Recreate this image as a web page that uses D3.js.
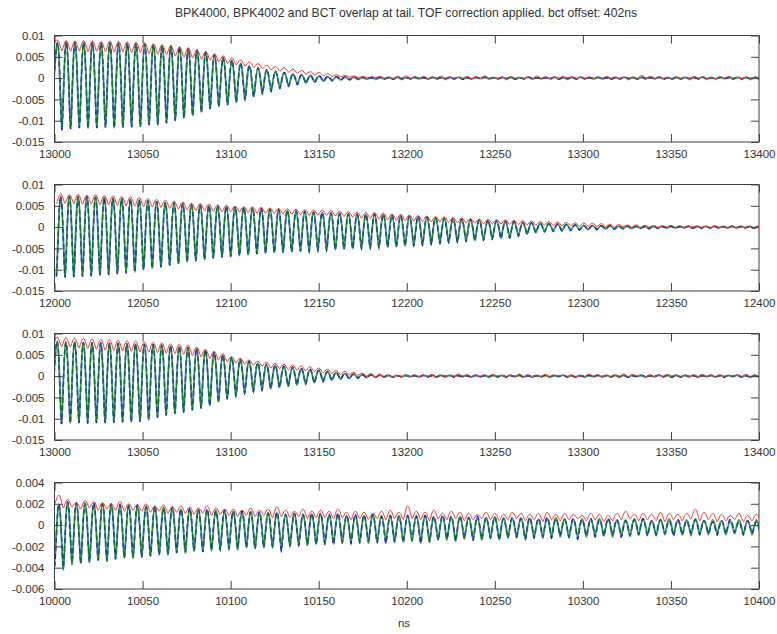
<!DOCTYPE html>
<html>
<head>
<meta charset="utf-8">
<script src="https://cdn.jsdelivr.net/npm/d3@7"></script>
<style>
  body { margin: 0; background: #fff; }
  svg { display: block; }
  text { font-family: "Liberation Sans", Arial, sans-serif; fill: #333; }
</style>
</head>
<body>
<svg id="chart" width="777" height="634"></svg>
<script>
// Signal values are stored per oscillation cycle (one peak and one trough each),
// in units of 1e-4. Samples sit half a bunch period apart.
const UNIT = 1e-4;
const PERIOD = 4.95; // ns

const titleText = "BPK4000, BPK4002 and BCT overlap at tail. TOF correction applied. bct offset: 402ns";
const xLabelText = "ns";

const yTicksWide = [-0.015, -0.01, -0.005, 0, 0.005, 0.01];
const yTicksNarrow = [-0.006, -0.004, -0.002, 0, 0.002, 0.004];
const xStarts = [13000, 12000, 13000, 10000];
const phases = [4.2, 6.0, 4.0, 5.0];

// ---- panel 1 : 13000 - 13400 ns ----
const p1BlueLo = [-20,
  -122,-119,-117,-118,-117,-116,-117,-116,-115,-114,
  -110,-110,-106,-100,-94,-88,-80,-72,-67,-63,
  -57,-50,-44,-36,-31,-24,-19,-15,-12,-10,
  -8,-6,-5,-4,-3,-3,-2,-2,-3,-2,
  -2,-1,-3,-2,-1,-2,-3,-2,-1,-2, -2,-1,-3,-2,-2,-1,-2,-3,-1,-2,
  -2,-1,-2,-3,-2,-1,-2,-2,-1,-3, -2,-2,-1,-2,-3,-2,-1,-2,-2,-1,-2];
const p1BlueHi = [84,
  86,85,84,84,83,83,82,82,81,80,
  79,77,76,73,70,66,61,55,48,42,
  35,29,24,20,16,13,10,8,6,5,
  4,3,3,2,2,1,2,1,2,1,
  2,1,2,1,1,2,1,2,2,1, 1,2,1,2,1,1,2,1,2,2,
  1,2,1,1,2,1,2,1,2,1, 2,1,1,2,1,2,1,2,1,2];
const p1GreenLo = [-18,
  -117,-114,-113,-115,-112,-113,-114,-112,-111,-111,
  -106,-107,-103,-97,-91,-85,-78,-70,-65,-61,
  -55,-49,-42,-35,-29,-23,-18,-14,-11,-9,
  -7,-6,-4,-4,-3,-2,-3,-2,-2,-3,
  -1,-2,-2,-1,-3,-1,-2,-2,-1,-2, -1,-3,-2,-1,-2,-2,-1,-1,-3,-2,
  -1,-2,-2,-1,-1,-3,-2,-1,-2,-1, -2,-1,-3,-1,-2,-2,-1,-2,-1,-3,-1];
const p1GreenHi = [82,
  85,84,83,83,82,82,82,81,80,79,
  78,76,75,72,69,65,60,54,47,41,
  34,28,23,19,15,12,9,7,6,4,
  3,3,2,2,1,2,1,1,2,1,
  1,2,1,1,2,2,1,1,2,1, 2,1,1,2,1,2,2,1,1,2,
  1,1,2,1,2,1,1,2,2,1, 1,2,1,2,1,1,2,1,1,2];
const p1RedLo = [84,
  64,63,64,62,63,62,61,62,60,60,
  58,56,55,52,49,47,44,42,38,34,
  31,28,25,22,19,16,14,11,9,7,
  5,4,3,2,1,0,1,0,-1,0,
  -1,0,-2,0,-1,-1,0,-2,-1,0, -1,-2,0,-1,0,-1,-2,-1,0,-1,
  -2,-1,0,-1,-3,-2,-1,0,-1,-2, -3,-2,-1,0,-1,-2,-1,0,-2,-1,-2];
const p1RedHi = [89,
  88,87,88,87,86,87,86,85,84,83,
  80,78,76,73,70,66,62,57,52,47,
  42,38,34,30,27,24,21,18,15,13,
  10,8,6,5,4,3,4,3,4,5,
  3,4,2,5,3,2,4,3,5,2, 3,4,2,3,5,3,2,4,3,2,
  3,2,4,3,2,3,6,4,3,2, 3,2,4,3,2,3,4,2,3,2];

// ---- panel 2 : 12000 - 12400 ns ----
const p2BlueLo = [-116,
  -118,-117,-116,-115,-113,-112,-110,-108,-106,-100,
  -97,-94,-90,-86,-82,-79,-76,-73,-71,-69,
  -67,-65,-63,-61,-60,-59,-58,-57,-56,-55,
  -54,-53,-52,-51,-50,-49,-48,-47,-46,-44,
  -43,-42,-40,-38,-36,-35,-33,-32,-30,-28,
  -27,-25,-21,-17,-13,-11,-10,-9,-8,-7,
  -6,-6,-5,-5,-4,-4,-3,-4,-3,-2,
  -3,-2,-3,-2,-2,-3,-2,-1,-2,-3,-2];
const p2BlueHi = [72,
  72,71,72,70,69,68,67,66,64,62,
  60,58,57,55,53,52,51,50,49,48,
  46,45,44,42,41,39,38,37,35,34,
  33,32,31,30,30,31,30,28,27,26,
  25,24,22,21,20,19,18,17,16,15,
  14,13,11,10,9,8,7,6,5,4,
  4,3,3,2,2,2,1,2,1,2,
  1,2,1,1,2,1,2,1,1,2];
const p2GreenLo = [-110,
  -113,-112,-112,-110,-109,-108,-106,-104,-102,-97,
  -94,-91,-87,-84,-80,-77,-74,-71,-69,-67,
  -65,-63,-61,-60,-58,-57,-56,-55,-54,-53,
  -52,-51,-50,-49,-48,-47,-46,-45,-44,-43,
  -41,-40,-38,-36,-35,-33,-32,-30,-29,-27,
  -25,-23,-20,-16,-13,-11,-9,-8,-7,-6,
  -6,-5,-4,-4,-3,-3,-2,-3,-2,-2,
  -2,-1,-2,-3,-2,-1,-2,-2,-1,-2,-2];
const p2GreenHi = [70,
  73,72,71,71,70,68,67,65,64,61,
  59,58,56,55,53,52,50,49,48,47,
  46,44,43,42,40,39,37,36,35,34,
  33,32,31,30,29,30,29,28,27,25,
  24,23,22,21,20,19,18,17,15,14,
  13,12,11,10,8,8,7,6,5,4,
  3,3,2,2,2,1,2,1,2,1,
  2,1,1,2,1,2,1,1,2,1];
const p2RedLo = [55,
  56,55,54,54,53,52,51,50,49,48,
  47,46,44,42,40,39,38,37,36,36,
  35,34,33,32,32,31,30,29,28,28,
  27,26,25,23,21,20,19,17,16,15,
  14,13,12,12,11,10,10,9,8,8,
  7,6,6,5,5,4,4,3,3,2,
  2,1,1,0,1,0,-1,0,-1,0,
  -1,-2,0,-1,-2,-1,-3,-2,-1,-2,-3];
const p2RedHi = [78,
  76,77,75,76,74,73,72,71,69,67,
  65,63,61,59,56,55,54,52,51,49,
  48,47,46,45,44,43,42,41,40,40,
  39,37,36,35,34,34,33,31,30,28,
  27,26,25,24,22,21,20,19,18,17,
  17,16,15,14,13,13,12,11,10,10,
  9,8,7,6,5,5,4,4,3,4,
  3,2,3,2,3,1,2,3,1,2];

// ---- panel 3 : 13000 - 13400 ns ----
const p3BlueLo = [-30,
  -112,-111,-110,-111,-110,-110,-109,-108,-108,-107,
  -103,-97,-92,-88,-85,-80,-76,-70,-61,-54,
  -46,-40,-36,-33,-30,-27,-24,-21,-19,-16,
  -13,-10,-8,-6,-5,-4,-3,-2,-3,-2,
  -1,-3,-2,-2,-1,-2,-1,-3,-2,-1, -2,-2,-1,-3,-1,-2,-2,-1,-2,-3,
  -1,-2,-1,-2,-2,-3,-1,-2,-1,-2, -3,-2,-1,-2,-1,-2,-3,-1,-2,-2,-1];
const p3BlueHi = [82,
  80,80,79,78,78,77,77,76,76,75,
  74,73,71,70,68,65,61,56,50,44,
  39,35,31,28,26,23,21,18,16,14,
  11,8,6,5,4,3,2,2,1,2,
  1,2,1,2,2,1,1,2,1,2, 2,1,2,1,1,2,1,2,1,1,
  2,2,1,2,1,1,2,1,2,2, 1,2,1,1,2,1,2,2,1,1];
const p3GreenLo = [-28,
  -107,-106,-106,-107,-105,-106,-105,-104,-103,-103,
  -99,-94,-89,-85,-82,-77,-73,-67,-59,-52,
  -44,-38,-34,-31,-28,-25,-22,-20,-17,-15,
  -12,-9,-7,-6,-4,-3,-3,-2,-2,-1,
  -2,-1,-1,-3,-2,-1,-2,-2,-1,-3, -1,-2,-1,-2,-3,-1,-2,-1,-2,-2,
  -3,-1,-2,-2,-1,-2,-1,-3,-2,-1, -1,-2,-2,-3,-1,-2,-1,-1,-2,-3,-2];
const p3GreenHi = [80,
  79,79,78,78,77,76,76,75,75,74,
  73,72,70,69,67,64,60,55,49,43,
  38,34,30,27,25,22,20,17,15,13,
  10,8,6,4,3,3,2,1,2,1,
  2,1,2,1,1,2,2,1,2,1, 1,2,1,2,2,1,1,2,1,2,
  1,1,2,1,2,2,1,1,2,1, 2,1,2,1,1,2,1,2,1,2];
const p3RedLo = [80,
  69,68,66,65,63,61,60,59,58,57,
  56,55,54,53,51,48,45,41,38,34,
  31,28,26,24,19,17,15,14,12,10,
  8,6,4,3,2,0,-3,-4,-3,-2,
  -1,-2,0,-1,-2,-1,0,-1,-2,-1, 0,-1,-2,-1,-3,-2,-1,0,-1,-2,
  -1,0,-2,-1,-1,-2,0,-1,-2,-1, 0,-2,-1,-1,-2,-3,-1,0,-1,-2,-1];
const p3RedHi = [91,
  90,89,88,87,86,85,84,83,82,80,
  79,78,76,75,73,68,63,58,53,46,
  42,38,35,33,30,28,26,24,22,19,
  16,13,11,9,7,6,5,3,1,2,
  3,2,4,3,2,5,3,2,3,4, 2,3,5,3,2,4,3,2,3,2,
  4,3,2,3,5,4,2,3,2,4, 3,2,3,4,2,3,2,3,4,3];

// ---- panel 4 : 10000 - 10400 ns ----
const p4BlueLo = [-39,
  -40,-35,-36,-34,-33,-33,-32,-31,-30,-30,
  -29,-28,-27,-26,-25,-24,-25,-23,-23,-22,
  -22,-21,-22,-21,-20,-24,-19,-19,-18,-18,
  -17,-18,-16,-17,-16,-15,-16,-17,-15,-16,
  -14,-17,-15,-14,-13,-15,-12,-14,-13,-12,
  -14,-12,-11,-13,-12,-11,-12,-10,-11,-13,
  -10,-11,-10,-9,-11,-10,-9,-10,-9,-8,
  -10,-9,-8,-9,-8,-9,-8,-7,-9,-8,-9];
const p4BlueHi = [20,
  22,21,20,21,20,20,19,18,19,17,
  18,16,17,15,16,14,15,13,14,13,
  13,12,12,11,12,10,11,10,11,11,
  10,11,9,10,9,10,8,9,8,9,
  8,9,8,9,8,8,7,8,7,7,
  6,7,6,7,6,7,6,5,6,5,
  6,5,6,5,4,5,6,4,5,4,
  5,4,5,4,3,4,5,3,4,3];
const p4GreenLo = [-30,
  -42,-37,-34,-35,-32,-34,-31,-30,-31,-29,
  -28,-27,-28,-25,-26,-24,-23,-24,-22,-21,
  -23,-20,-21,-20,-21,-19,-20,-18,-19,-17,
  -18,-16,-17,-15,-16,-17,-15,-14,-16,-15,
  -15,-14,-16,-13,-14,-15,-13,-12,-14,-12,
  -13,-11,-12,-13,-11,-12,-10,-11,-12,-10,
  -11,-9,-10,-11,-9,-10,-9,-8,-10,-9,
  -8,-9,-10,-8,-9,-7,-9,-8,-8,-9,-7];
const p4GreenHi = [18,
  21,20,21,19,20,19,18,19,17,18,
  16,17,16,15,14,15,13,14,12,13,
  12,13,11,12,11,10,11,10,9,10,
  9,10,9,8,9,10,9,8,9,8,
  9,8,7,8,7,8,7,6,7,8,
  7,6,7,6,5,6,7,6,5,6,
  5,6,5,4,5,6,5,4,5,6,
  4,5,6,4,5,4,3,5,4,5];
const p4RedLo = [20,
  16,17,15,16,14,15,14,13,14,13,
  12,13,11,12,11,10,11,9,10,9,
  8,9,8,9,7,8,7,8,6,7,
  7,6,7,5,6,5,6,5,6,5,
  6,5,4,6,5,6,4,5,6,5,
  4,5,6,4,5,3,5,4,5,6,
  4,5,3,4,5,6,4,5,4,3,
  5,4,6,4,5,3,4,5,3,4,5];
const p4RedHi = [28,
  24,21,23,22,21,20,22,20,19,20,
  18,19,17,18,17,16,18,16,15,15,
  14,16,14,15,17,14,13,15,13,14,
  13,15,12,13,12,11,13,14,12,18,
  13,12,14,11,13,12,11,10,12,11,
  10,12,11,10,11,12,10,11,10,9,
  11,10,9,11,13,10,11,10,12,11,
  10,11,15,12,11,10,9,11,9,10];

const panelData = [
  { blueLo: p1BlueLo, blueHi: p1BlueHi, greenLo: p1GreenLo, greenHi: p1GreenHi, redLo: p1RedLo, redHi: p1RedHi, yTicks: yTicksWide },
  { blueLo: p2BlueLo, blueHi: p2BlueHi, greenLo: p2GreenLo, greenHi: p2GreenHi, redLo: p2RedLo, redHi: p2RedHi, yTicks: yTicksWide },
  { blueLo: p3BlueLo, blueHi: p3BlueHi, greenLo: p3GreenLo, greenHi: p3GreenHi, redLo: p3RedLo, redHi: p3RedHi, yTicks: yTicksWide },
  { blueLo: p4BlueLo, blueHi: p4BlueHi, greenLo: p4GreenLo, greenHi: p4GreenHi, redLo: p4RedLo, redHi: p4RedHi, yTicks: yTicksNarrow }
];

// ---- layout ----
const plotLeft = 54.5, plotRight = 759;
const panelTops = [35.5, 184.5, 333.5, 482.5];
const panelHeight = 106.5;
const tickLen = 8;
const titleWidth = 462;

const svg = d3.select("#chart");

// title, sized so that it spans its intended width
const title = svg.append("text")
  .attr("x", 406).attr("y", 17)
  .attr("text-anchor", "middle")
  .style("font-size", "12px")
  .text(titleText);
const measured = title.node().getComputedTextLength();
if (measured > 0) title.style("font-size", (12 * titleWidth / measured).toFixed(2) + "px");

// Interleave trough / peak readings into a time-ordered series.
function buildSeries(x0, phase, lo, hi) {
  const pts = [];
  const n = Math.max(lo.length, hi.length);
  for (let k = 0; k < n; k++) {
    if (k < lo.length) pts.push([x0 + phase + (k - 1) * PERIOD, lo[k] * UNIT]);
    if (k < hi.length) pts.push([x0 + phase + (k - 0.5) * PERIOD, hi[k] * UNIT]);
  }
  return pts;
}

// Curve with rounded crests and slightly pointed troughs (bunch-shaped pulses).
function cuspCurve(context) {
  let px, py, n = 0;
  return {
    areaStart() {}, areaEnd() {},
    lineStart() { n = 0; },
    lineEnd() {},
    point(x, y) {
      x = +x; y = +y;
      if (n++ === 0) {
        context.moveTo(x, y);
      } else {
        const dx = x - px, dy = y - py;
        if (y < py) {
          // rising from a trough to a crest
          context.bezierCurveTo(px + dx * 0.28, py + dy * 0.12, x - dx * 0.42, y, x, y);
        } else {
          // falling from a crest into a trough
          context.bezierCurveTo(px + dx * 0.42, py, x - dx * 0.28, y - dy * 0.12, x, y);
        }
      }
      px = x; py = y;
    }
  };
}

const fmtY = v => String(+v.toFixed(4));

panelData.forEach((pd, i) => {
  const x0 = xStarts[i];
  const top = panelTops[i];
  const bottom = top + panelHeight;
  const yt = pd.yTicks;

  const x = d3.scaleLinear().domain([x0, x0 + 400]).range([plotLeft, plotRight]);
  const y = d3.scaleLinear().domain([yt[0], yt[yt.length - 1]]).range([bottom, top]);

  const g = svg.append("g");
  const clipId = "clip" + i;
  svg.append("clipPath").attr("id", clipId)
    .append("rect")
    .attr("x", plotLeft).attr("y", top)
    .attr("width", plotRight - plotLeft).attr("height", panelHeight);

  const line = d3.line()
    .x(d => x(d[0]))
    .y(d => y(d[1]))
    .curve(cuspCurve);

  const blue = buildSeries(x0, phases[i], pd.blueLo, pd.blueHi);
  const green = buildSeries(x0, phases[i], pd.greenLo, pd.greenHi);
  const red = buildSeries(x0, phases[i], pd.redLo, pd.redHi);

  const plot = g.append("g").attr("clip-path", `url(#${clipId})`);

  plot.append("path").datum(green).attr("d", line)
    .attr("fill", "none").attr("stroke", "#8fcf8f").attr("stroke-width", 2.2)
    .attr("stroke-opacity", 0.8).attr("stroke-linejoin", "round");
  plot.append("path").datum(blue).attr("d", line)
    .attr("fill", "none").attr("stroke", "#7f80ff").attr("stroke-width", 1.5)
    .attr("stroke-opacity", 0.75).attr("stroke-linejoin", "round");
  plot.append("path").datum(blue).attr("d", line)
    .attr("fill", "none").attr("stroke", "#0a1ed0").attr("stroke-width", 1.5)
    .attr("stroke-dasharray", "5,3");
  plot.append("path").datum(green).attr("d", line)
    .attr("fill", "none").attr("stroke", "#138a13").attr("stroke-width", 0.9);
  plot.append("path").datum(red).attr("d", line)
    .attr("fill", "none").attr("stroke", "#ff3030").attr("stroke-width", 1);

  // axes: inward ticks on all four sides, labels on left and bottom
  const xTicks = d3.range(x0, x0 + 401, 50);

  const axB = g.append("g").attr("transform", `translate(0,${bottom})`)
    .call(d3.axisBottom(x).tickValues(xTicks).tickSize(-tickLen).tickPadding(8).tickFormat(d3.format("d")));
  const axT = g.append("g").attr("transform", `translate(0,${top})`)
    .call(d3.axisTop(x).tickValues(xTicks).tickSize(-tickLen).tickFormat(""));
  const axL = g.append("g").attr("transform", `translate(${plotLeft},0)`)
    .call(d3.axisLeft(y).tickValues(yt).tickSize(-tickLen).tickPadding(10).tickFormat(fmtY));
  const axR = g.append("g").attr("transform", `translate(${plotRight},0)`)
    .call(d3.axisRight(y).tickValues(yt).tickSize(-tickLen).tickFormat(""));

  [axB, axT, axL, axR].forEach(a => {
    a.select(".domain").remove();
    a.selectAll(".tick line").attr("stroke", "#404040").attr("stroke-width", 1);
    a.selectAll(".tick text").style("font-size", "11.5px").attr("fill", "#333")
      .style("font-family", "'Liberation Sans', Arial, sans-serif");
  });

  g.append("rect")
    .attr("x", plotLeft).attr("y", top)
    .attr("width", plotRight - plotLeft).attr("height", panelHeight)
    .attr("fill", "none").attr("stroke", "#404040").attr("stroke-width", 1);
});

svg.append("text")
  .attr("x", 404).attr("y", 627)
  .attr("text-anchor", "middle")
  .style("font-size", "11.5px")
  .text(xLabelText);
</script>
</body>
</html>
